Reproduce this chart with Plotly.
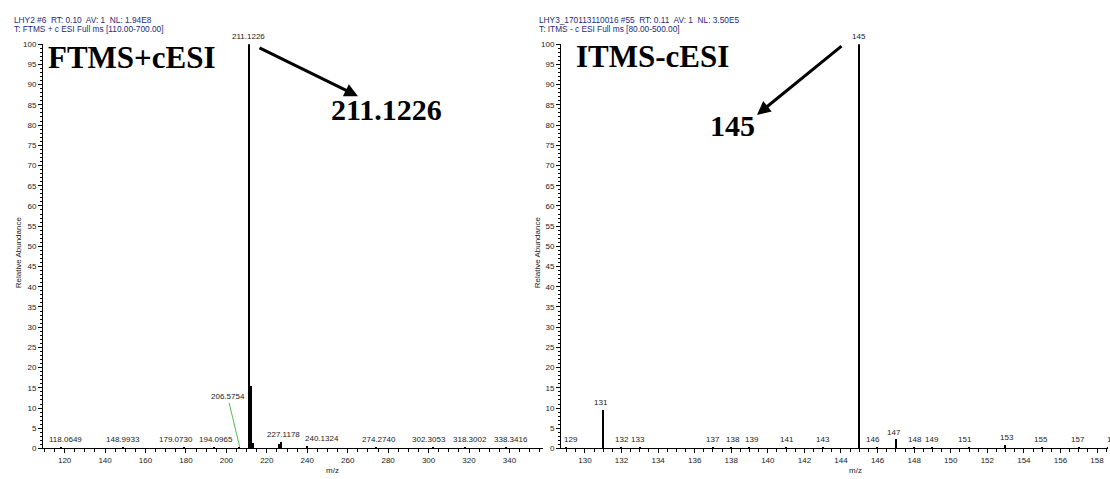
import plotly.graph_objects as go

W, H = 1110, 479

# ---------------- data ----------------
# Left spectrum (FTMS +c ESI)
left_mz = [118.0649, 148.9933, 179.0730, 194.0965, 206.5754, 211.1226, 212.126, 213.12,
           225.9, 227.1178, 240.1324, 274.2740, 302.3053, 318.3002, 338.3416]
left_int = [0.3, 0.3, 0.4, 0.3, 0.4, 100, 15.3, 1.2, 1.0, 1.6, 0.6, 0.4, 0.4, 0.3, 0.3]
left_label_mz = [118.0649, 148.9933, 179.0730, 194.0965, 211.1226, 227.1178,
                 240.1324, 274.2740, 302.3053, 318.3002, 338.3416]
left_label_txt = ["118.0649", "148.9933", "179.0730", "194.0965", "211.1226", "227.1178",
                  "240.1324", "274.2740", "302.3053", "318.3002", "338.3416"]
left_label_dx = [5, 0, -8, 2, 0, 2, 14, 2, -4, 4, 5]
left_leader_mz = [206.5754]
left_leader_txt = ["206.5754"]

# Right spectrum (ITMS -c ESI)
right_mz = [129, 131, 132, 133, 137, 138, 139, 141, 143, 145, 146, 147, 148, 149, 151, 153,
            155, 157, 158.6]
right_int = [0.3, 9.5, 0.3, 0.3, 0.3, 0.3, 0.3, 0.3, 0.4, 100, 0.3, 2.2, 0.3, 0.3, 0.4, 0.8,
             0.3, 0.3, 0.3]
right_label_txt = ["129", "131", "132", "133", "137", "138", "139", "141", "143", "145", "146",
                   "147", "148", "149", "151", "153", "155", "157", "159"]
right_label_dx = [4, -2, 0, -2, 0, 2, 2, 1, 0, 0, -5, -2, 1, 0, -4, 1, -1, -1, 6]

left_range = [109.3, 356.6]
right_range = [128.69, 158.6]

header_left = ["LHY2 #6  RT: 0.10  AV: 1  NL: 1.94E8",
               "T: FTMS + c ESI Full ms [110.00-700.00]"]
header_right = ["LHY3_170113110016 #55  RT: 0.11  AV: 1  NL: 3.50E5",
                "T: ITMS - c ESI Full ms [80.00-500.00]"]

# ---------------- figure ----------------
fig = go.Figure()
fig.add_trace(go.Bar(x=left_mz, y=left_int, width=0.7, marker=dict(color="black", line=dict(width=0)),
                     xaxis="x", yaxis="y", showlegend=False, hoverinfo="x+y"))
fig.add_trace(go.Bar(x=right_mz, y=right_int, width=0.075, marker=dict(color="black", line=dict(width=0)),
                     xaxis="x2", yaxis="y2", showlegend=False, hoverinfo="x+y"))

sans = "Liberation Sans, Arial, sans-serif"
serif = "Liberation Serif, Times New Roman, serif"
tickfont = dict(family=sans, size=8, color="#222")

def yax(anchor):
    return dict(domain=[26 / H, 438 / H], range=[0, 100], anchor=anchor, showline=True,
                linecolor="black", linewidth=1, ticks="outside", ticklen=4, tickcolor="black",
                dtick=5, tick0=0, showgrid=False, zeroline=False, tickfont=tickfont,
                minor=dict(dtick=1, ticks="outside", ticklen=2, tickcolor="black", showgrid=False))

def xax(dom, rng, dt, mdt, anchor):
    return dict(domain=dom, range=rng, anchor=anchor, showline=True, linecolor="black",
                linewidth=1, ticks="outside", ticklen=4, tickcolor="black", dtick=dt, tick0=0,
                showgrid=False, zeroline=False, tickfont=tickfont,
                minor=dict(dtick=mdt, ticks="outside", ticklen=3, tickcolor="black", showgrid=False))

fig.update_layout(
    width=W, height=H, margin=dict(l=0, r=0, t=0, b=0),
    paper_bgcolor="white", plot_bgcolor="white", bargap=0,
    xaxis=xax([43 / W, 543 / W], left_range, 20, 5, "y"),
    yaxis=yax("x"),
    xaxis2=xax([561 / W, 1108 / W], right_range, 2, 0.5, "y2"),
    yaxis2=yax("x2"),
)

ann = []
lblfont = dict(family=sans, size=8, color="#222")
# peak labels
for mz, txt, dx in zip(left_label_mz, left_label_txt, left_label_dx):
    yv = left_int[left_mz.index(mz)]
    ann.append(dict(x=mz, y=yv, xref="x", yref="y", text=txt, showarrow=False, xanchor="center",
                    yanchor="bottom", xshift=dx, yshift=1, font=lblfont))
for mz, txt in zip(left_leader_mz, left_leader_txt):
    yv = left_int[left_mz.index(mz)]
    ann.append(dict(x=mz, y=yv, xref="x", yref="y", text=txt, showarrow=True, ax=-12, ay=-50,
                    arrowhead=0, arrowwidth=1, arrowcolor="#5cb85c", font=lblfont))
for mz, yv, txt, dx in zip(right_mz, right_int, right_label_txt, right_label_dx):
    ann.append(dict(x=mz, y=yv, xref="x2", yref="y2", text=txt, showarrow=False, xanchor="center",
                    yanchor="bottom", xshift=dx, yshift=1, font=lblfont))

# headers
hfont = dict(family=sans, size=8.3, color="#1c2a80")
for i, t in enumerate(header_left):
    ann.append(dict(x=12 / W, y=1 - (16 + 9 * i) / H, xref="paper", yref="paper", text=t,
                    showarrow=False, xanchor="left", yanchor="middle", font=hfont))
for i, t in enumerate(header_right):
    ann.append(dict(x=537 / W, y=1 - (16 + 9 * i) / H, xref="paper", yref="paper", text=t,
                    showarrow=False, xanchor="left", yanchor="middle", font=hfont))

# axis titles
afont = dict(family=sans, size=8, color="#222")
for xp in (18, 537):
    ann.append(dict(x=xp / W, y=1 - 253 / H, xref="paper", yref="paper", text="Relative Abundance",
                    textangle=-90, showarrow=False, xanchor="center", yanchor="middle", font=afont))
for xp in (332, 855):
    ann.append(dict(x=xp / W, y=1 - 475 / H, xref="paper", yref="paper", text="m/z",
                    showarrow=False, xanchor="center", yanchor="middle", font=afont))

# big labels
bfont = dict(family=serif, size=31, color="black")
ann.append(dict(x=132 / W, y=1 - 55 / H, xref="paper", yref="paper", text="<b>FTMS+cESI</b>",
                showarrow=False, xanchor="center", yanchor="middle", font=bfont))
ann.append(dict(x=652 / W, y=1 - 54 / H, xref="paper", yref="paper", text="<b>ITMS-cESI</b>",
                showarrow=False, xanchor="center", yanchor="middle", font=bfont))
ann.append(dict(x=386 / W, y=1 - 108 / H, xref="paper", yref="paper", text="<b>211.1226</b>",
                showarrow=False, xanchor="center", yanchor="middle", font=dict(family=serif, size=30, color="black")))
ann.append(dict(x=732 / W, y=1 - 124 / H, xref="paper", yref="paper", text="<b>145</b>",
                showarrow=False, xanchor="center", yanchor="middle", font=dict(family=serif, size=30, color="black")))

# arrows
ann.append(dict(x=358 / W, y=1 - 94 / H, xref="paper", yref="paper", text="", showarrow=True,
                ax=-100, ay=-49, arrowhead=2, arrowsize=0.9, arrowwidth=3, arrowcolor="black"))
ann.append(dict(x=757 / W, y=1 - 113 / H, xref="paper", yref="paper", text="", showarrow=True,
                ax=86, ay=-70, arrowhead=2, arrowsize=0.9, arrowwidth=3, arrowcolor="black"))

fig.update_layout(annotations=ann)
fig.write_html("out.html")
